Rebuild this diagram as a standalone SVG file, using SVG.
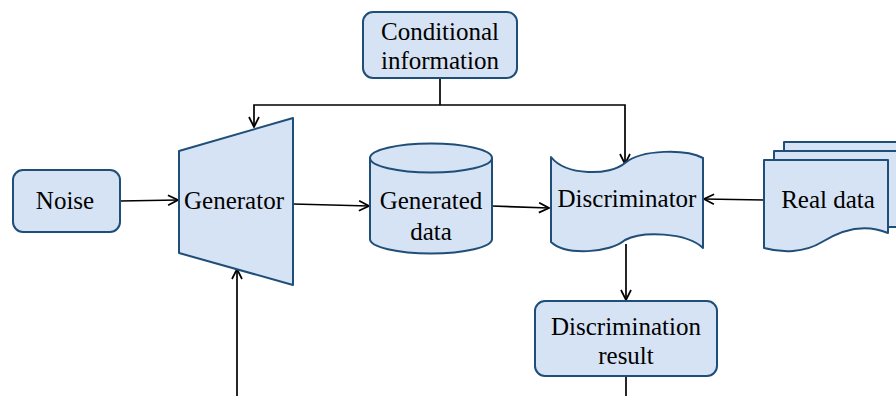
<svg xmlns="http://www.w3.org/2000/svg" width="896" height="396" viewBox="0 0 896 396">
<defs>
<style>
.n{fill:#d6e3f4;stroke:#1f4e79;stroke-width:2;stroke-linejoin:round}
.t{font-family:"Liberation Serif","Times New Roman",serif;font-size:25px;fill:#000;text-anchor:middle}
.c{fill:none;stroke:#000;stroke-width:1.7}
</style>
<marker id="a" viewBox="0 0 12 12" refX="11" refY="6" markerWidth="12" markerHeight="12" markerUnits="userSpaceOnUse" orient="auto">
<path d="M1,1 L11,6 L1,11" fill="none" stroke="#000" stroke-width="1.7"/>
</marker>
</defs>
<rect width="896" height="396" fill="#fff"/>
<g id="connectors">
<path class="c" d="M120,201 L178,200" marker-end="url(#a)"/>
<path class="c" d="M293,204 L369,206" marker-end="url(#a)"/>
<path class="c" d="M492,206 L549,208" marker-end="url(#a)"/>
<path class="c" d="M764,200 L704,199" marker-end="url(#a)"/>
<path class="c" d="M440,78 L440,105"/>
<path class="c" d="M440,105 L254,105 L254,127" marker-end="url(#a)"/>
<path class="c" d="M440,105 L625,105 L625,164" marker-end="url(#a)"/>
<path class="c" d="M237,396 L237,269" marker-end="url(#a)"/>
<path class="c" d="M626,244 L626,300" marker-end="url(#a)"/>
<path class="c" d="M626,376 L626,396"/>
</g>
<g id="noise">
<rect class="n" x="13" y="170" width="107" height="62" rx="10"/>
<text class="t" x="65" y="209">Noise</text>
</g>
<g id="generator">
<path class="n" d="M179,151 L293,118 L293,285 L179,253 Z"/>
<text class="t" x="234" y="209">Generator</text>
</g>
<g id="generated-data">
<path class="n" d="M370,158 A61,14.5 0 0 1 492,158 L492,239 A61,14.5 0 0 1 370,239 Z"/>
<path class="n" fill="none" d="M370,158 A61,14.5 0 0 0 492,158"/>
<text class="t" x="431" y="209">Generated</text>
<text class="t" x="431" y="240">data</text>
</g>
<g id="discriminator">
<path class="n" d="M551,157 C566,176 610,176 625,163 C642,149 686,149 703,158 L703,248 C686,232 642,231 625,240 C610,253 566,256 551,242 Z"/>
<text class="t" x="627" y="207">Discriminator</text>
</g>
<g id="real-data">
<path class="n" d="M784,142 L910,142 L910,220 L784,220 Z"/>
<path class="n" d="M774,151 L900,151 L900,227 L774,227 Z"/>
<path class="n" d="M764,160 L888,160 L888,233 C862,222 838,232 822,242 C804,253 782,253 764,248 Z"/>
<text class="t" x="828" y="208">Real data</text>
</g>
<g id="conditional-information">
<rect class="n" x="363" y="12" width="154" height="66" rx="10"/>
<text class="t" x="440" y="40">Conditional</text>
<text class="t" x="440" y="69">information</text>
</g>
<g id="discrimination-result">
<rect class="n" x="535" y="301" width="182" height="75" rx="10"/>
<text class="t" x="626" y="335">Discrimination</text>
<text class="t" x="626" y="364">result</text>
</g>
</svg>
